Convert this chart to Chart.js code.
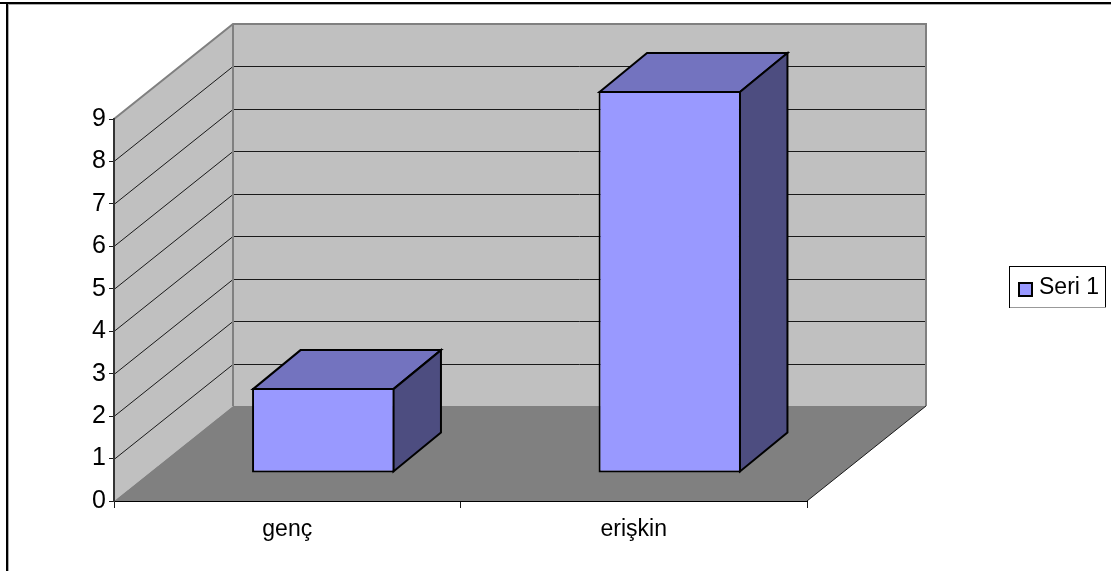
<!DOCTYPE html>
<html>
<head>
<meta charset="utf-8">
<title>Seri 1</title>
<script src="https://cdn.jsdelivr.net/npm/chart.js@4"></script>
<style>
  html, body { margin: 0; padding: 0; background: #fff; }
  canvas { display: block; }
</style>
</head>
<body>
<canvas id="chart" width="1111" height="571"></canvas>
<script>
const categories = ["genç", "erişkin"];
const seriesName = "Seri 1";
const seriesValues = [2, 9];
const yTicks = [0, 1, 2, 3, 4, 5, 6, 7, 8, 9];

// 3D look: how far the back wall and the bar fronts sit from the front axis plane
const wallDepth = { x: 119, y: -95 };
const barShift = { x: 36, y: -28 };
const barDepth = { x: 47.5, y: -39 };
const barColor = "#9999ff";
const fontFamily = "'Liberation Sans', Arial, sans-serif";

function poly(ctx, pts, fill, stroke, lineWidth) {
  ctx.beginPath();
  pts.forEach((p, i) => i ? ctx.lineTo(p[0], p[1]) : ctx.moveTo(p[0], p[1]));
  ctx.closePath();
  if (fill) { ctx.fillStyle = fill; ctx.fill(); }
  if (stroke) { ctx.strokeStyle = stroke; ctx.lineWidth = lineWidth; ctx.lineJoin = "miter"; ctx.stroke(); }
}

const walls = {
  id: "walls",
  // Walls, floor and gridlines behind everything
  beforeDraw(chart) {
    const { ctx, chartArea: a, scales: { y } } = chart;
    const dx = wallDepth.x, dy = wallDepth.y;
    const top = y.getPixelForValue(yTicks[yTicks.length - 1]);
    const bottom = y.getPixelForValue(0);
    ctx.save();
    ctx.fillStyle = "#fff";
    ctx.fillRect(0, 0, chart.width, chart.height);

    poly(ctx, [[a.left + dx, top + dy], [a.right + dx, top + dy], [a.right + dx, bottom + dy], [a.left + dx, bottom + dy]], "#c0c0c0");
    poly(ctx, [[a.left, top], [a.left + dx, top + dy], [a.left + dx, bottom + dy], [a.left, bottom]], "#c0c0c0");
    poly(ctx, [[a.left, bottom], [a.left + dx, bottom + dy], [a.right + dx, bottom + dy], [a.right, bottom]], "#808080");

    // gridlines run along the side wall then across the back wall
    ctx.strokeStyle = "#1a1a1a";
    ctx.lineWidth = 1;
    yTicks.slice(1, -1).forEach(v => {
      const py = Math.round(y.getPixelForValue(v)) + 0.5;
      ctx.beginPath();
      ctx.moveTo(a.left, py);
      ctx.lineTo(a.left + dx, py + dy);
      ctx.lineTo(a.right + dx, py + dy);
      ctx.stroke();
    });

    // grey wall outlines
    ctx.strokeStyle = "#808080";
    ctx.lineWidth = 2;
    ctx.beginPath();
    ctx.moveTo(a.left, top);
    ctx.lineTo(a.left + dx, top + dy);
    ctx.lineTo(a.right + dx, top + dy);
    ctx.lineTo(a.right + dx, bottom + dy);
    ctx.moveTo(a.left + dx, top + dy);
    ctx.lineTo(a.left + dx, bottom + dy);
    ctx.stroke();

    // right floor edge
    ctx.strokeStyle = "#1a1a1a";
    ctx.lineWidth = 1;
    ctx.beginPath();
    ctx.moveTo(a.right, bottom);
    ctx.lineTo(a.right + dx, bottom + dy);
    ctx.stroke();
    ctx.restore();
  },
  // Top and side faces of each bar, then shift the front faces onto the floor
  beforeDatasetDraw(chart, args) {
    const { ctx } = chart;
    ctx.save();
    ctx.translate(barShift.x, barShift.y);
    args.meta.data.forEach(bar => {
      const l = bar.x - bar.width / 2 + 1, r = bar.x + bar.width / 2 - 1;
      const t = bar.y + 1, b = bar.base - 1;
      const dx = barDepth.x, dy = barDepth.y;
      poly(ctx, [[l, t], [l + dx, t + dy], [r + dx, t + dy], [r, t]], "#7373bf", "#000", 2);
      poly(ctx, [[r, t], [r + dx, t + dy], [r + dx, b + dy], [r, b]], "#4d4d80", "#000", 2);
    });
  },
  afterDatasetDraw(chart) {
    chart.ctx.restore();
  },
  // Legend sits right of the plot, outside the chart area
  afterLayout(chart) {
    const lg = chart.legend;
    const w = lg.width, h = lg.height;
    lg.left = 1018.5; lg.right = 1018.5 + w;
    lg.top = 267; lg.bottom = 267 + h;
  },
  // Legend frame and swatch, and the outer top/left rule
  afterDraw(chart) {
    const { ctx } = chart;
    ctx.save();
    ctx.strokeStyle = "#000";
    ctx.lineWidth = 1;
    ctx.strokeRect(1009.5, 266.5, 96, 41);
    ctx.fillStyle = "#999";
    ctx.fillRect(1010, 307, 96, 1);

    ctx.fillStyle = barColor;
    ctx.lineWidth = 2;
    ctx.fillRect(1019, 283, 13, 13);
    ctx.strokeRect(1019, 283, 13, 13);

    ctx.fillStyle = "#000";
    ctx.fillRect(0, 2, chart.width, 2);
    ctx.fillRect(6, 2, 2, chart.height - 2);
    ctx.fillStyle = "#aaa";
    ctx.fillRect(8, 4, chart.width - 8, 1);
    ctx.fillRect(8, 4, 1, chart.height - 4);
    ctx.restore();
  }
};

new Chart(document.getElementById("chart"), {
  type: "bar",
  data: {
    labels: categories,
    datasets: [{
      label: seriesName,
      data: seriesValues,
      backgroundColor: barColor,
      borderColor: "#000",
      borderWidth: 2,
      borderSkipped: false,
      categoryPercentage: 1,
      barPercentage: 0.411,
      clip: false
    }]
  },
  plugins: [walls],
  options: {
    responsive: false,
    animation: false,
    layout: { padding: { top: 119, right: 304, bottom: 0, left: 0 } },
    plugins: {
      title: { display: false },
      tooltip: { enabled: false },
      legend: {
        position: "chartArea",
        align: "start",
        labels: {
          color: "#000",
          font: { family: fontFamily, size: 23 },
          boxWidth: 0,
          boxHeight: 0,
          padding: 9,
          generateLabels: () => [{ text: seriesName, lineWidth: 0, datasetIndex: 0 }]
        }
      }
    },
    scales: {
      x: {
        afterFit(scale) { scale.height = 70; },
        grid: { drawOnChartArea: false, color: "#1a1a1a", tickLength: 7, tickColor: "#1a1a1a", offset: true },
        border: { color: "#000", width: 1 },
        ticks: {
          color: "#000",
          padding: 8,
          maxRotation: 0,
          font: { family: fontFamily, size: 23 }
        }
      },
      y: {
        min: 0,
        max: 9,
        afterFit(scale) { scale.width = 114; },
        afterBuildTicks(scale) { scale.ticks = yTicks.map(value => ({ value })); },
        grid: { drawOnChartArea: false, color: "#1a1a1a", tickLength: 5, tickColor: "#1a1a1a" },
        border: { color: "#333", width: 2 },
        ticks: {
          color: "#000",
          padding: 3,
          font: { family: fontFamily, size: 25 }
        }
      }
    }
  }
});
</script>
</body>
</html>
